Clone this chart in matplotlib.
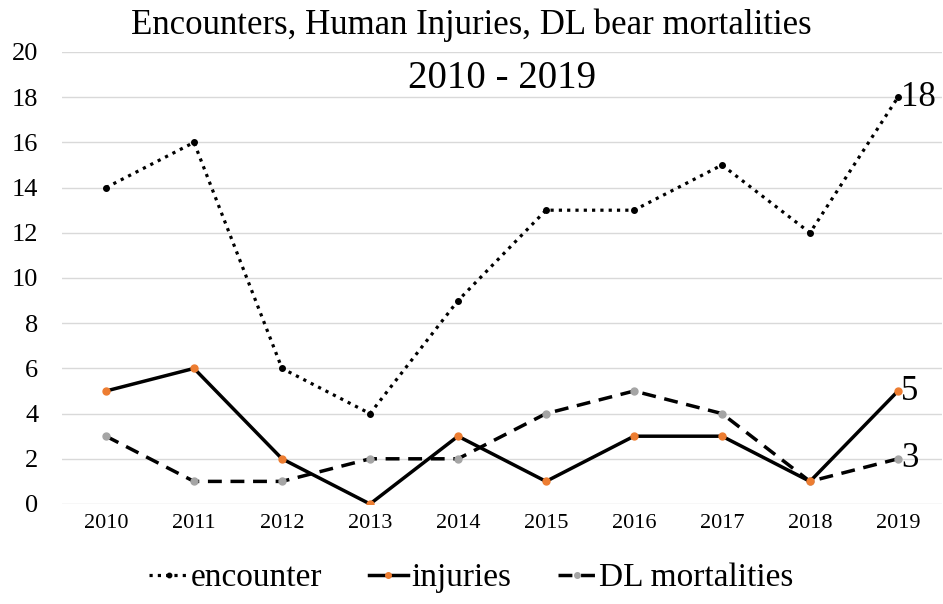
import matplotlib.pyplot as plt

years = ['2010', '2011', '2012', '2013', '2014', '2015', '2016', '2017', '2018', '2019']
encounter = [14, 16, 6, 4, 9, 13, 13, 15, 12, 18]
injuries = [5, 6, 2, 0, 3, 1, 3, 3, 1, 5]
dl_mortalities = [3, 1, 1, 2, 2, 4, 5, 4, 1, 2]
end_labels = ['18', '5', '3']

plt.rcParams['font.family'] = ['Liberation Serif', 'DejaVu Serif']

fig = plt.figure(figsize=(9.43, 6.04), dpi=100)
ax = fig.add_axes([62 / 943, 1 - 504 / 604, 880 / 943, 452 / 604])

x = list(range(len(years)))
ax.plot(x, encounter, ls=(0, (1, 1.6)), lw=2.3, color='black',
        marker='o', ms=4, mfc='black', mec='black', label='encounter')
ax.plot(x, injuries, ls='-', lw=2.5, color='black',
        marker='o', ms=5, mfc='#ED7D31', mec='#ED7D31', label='injuries', zorder=3)
ax.plot(x, dl_mortalities, ls=(0, (4, 2.5)), lw=2.5, color='black',
        marker='o', ms=5, mfc='#A5A5A5', mec='#A5A5A5', label='DL mortalities')

# value labels at the last year
for series, text in zip([encounter, injuries, dl_mortalities], end_labels):
    ax.annotate(text, (x[-1], series[-1]), xytext=(2, 0), textcoords='offset points',
                fontsize=25, va='center', ha='left')

ax.set_xlim(-0.5, len(years) - 0.5)
ax.set_ylim(0, 20)
ax.set_yticks(range(0, 21, 2))
ax.set_xticks(x)
ax.set_xticklabels(years, fontsize=16)
ax.tick_params(axis='y', labelsize=19, length=0, pad=17)
ax.tick_params(axis='x', length=0, pad=7)
ax.grid(axis='y', color='#D9D9D9', lw=1)
ax.set_axisbelow(True)
for s in ax.spines.values():
    s.set_visible(False)

fig.text(0.5, 1 - 25 / 604, 'Encounters, Human Injuries, DL bear mortalities',
         ha='center', va='center', fontsize=25)
ax.text(0.5, 1 - 26 / 452, '2010 - 2019', transform=ax.transAxes,
        ha='center', va='center', fontsize=28)

fig.legend(loc='center', bbox_to_anchor=(0.5, 1 - 578 / 604), ncol=3, frameon=False,
           fontsize=24, handlelength=1.15, handletextpad=0.1, columnspacing=1.4,
           markerscale=0.8)

fig.savefig('out.png', dpi=100)
